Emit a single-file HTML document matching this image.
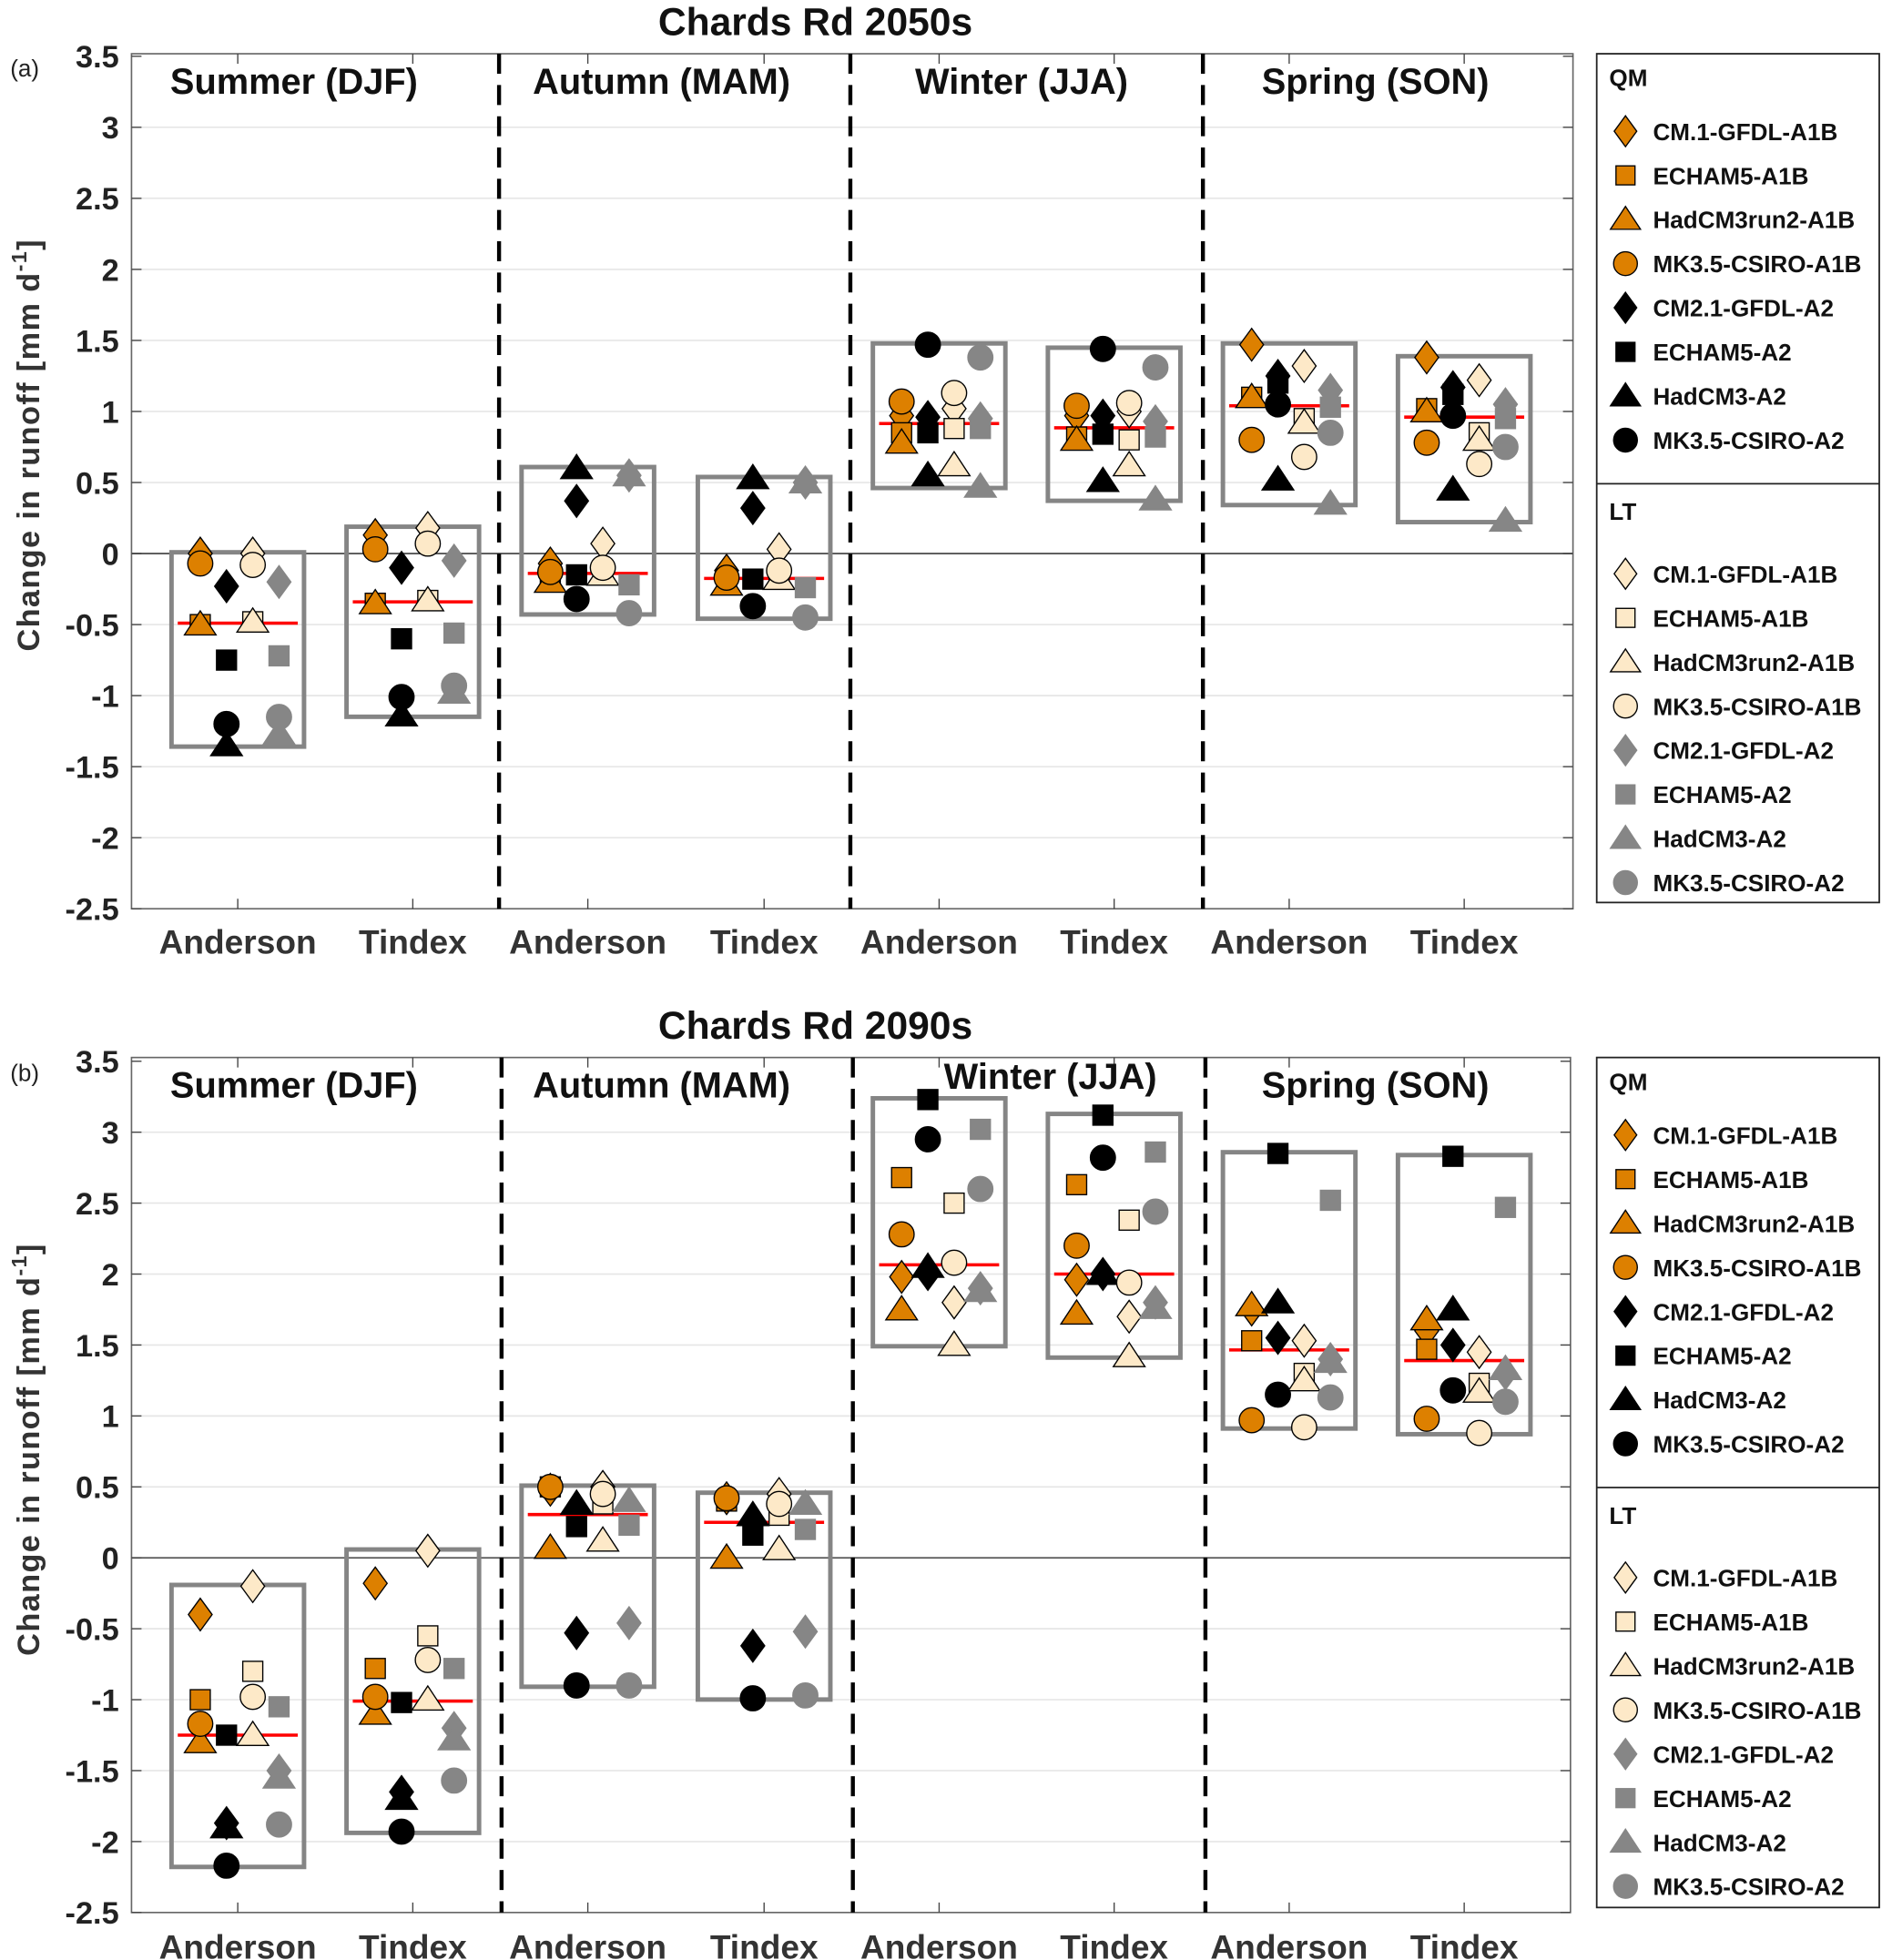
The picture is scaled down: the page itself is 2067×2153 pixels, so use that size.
<!DOCTYPE html>
<html><head><meta charset="utf-8">
<style>
html,body{margin:0;padding:0;background:#fff;}
svg{display:block;}
text{font-family:"Liberation Sans",sans-serif;}
</style></head>
<body>
<svg id="chart" xmlns="http://www.w3.org/2000/svg" width="2067" height="2153" viewBox="0 0 1505 1568"></svg>
<script>
// ---- data ----
const panelTitles = ["Chards Rd 2050s", "Chards Rd 2090s"];
const panelTags = ["(a)", "(b)"];
const seasons = ["Summer (DJF)", "Autumn (MAM)", "Winter (JJA)", "Spring (SON)"];
const methods = ["Anderson", "Tindex", "Anderson", "Tindex", "Anderson", "Tindex", "Anderson", "Tindex"];
const models = ["CM.1-GFDL-A1B", "ECHAM5-A1B", "HadCM3run2-A1B", "MK3.5-CSIRO-A1B", "CM2.1-GFDL-A2", "ECHAM5-A2", "HadCM3-A2", "MK3.5-CSIRO-A2"];
const yTicks = [3.5, 3, 2.5, 2, 1.5, 1, 0.5, 0, -0.5, -1, -1.5, -2, -2.5];
// each group: [QM-A1B(4), QM-A2(4), LT-A1B(4), LT-A2(4)] ; model order: diamond, square, triangle, circle
const values2050 = [
 [[0.0,-0.5,-0.5,-0.07],[-0.23,-0.75,-1.35,-1.2],[0.0,-0.48,-0.48,-0.08],[-0.2,-0.72,-1.27,-1.15]],
 [[0.13,-0.35,-0.35,0.03],[-0.1,-0.6,-1.14,-1.01],[0.18,-0.33,-0.33,0.07],[-0.05,-0.56,-0.98,-0.93]],
 [[-0.07,-0.15,-0.2,-0.13],[0.37,-0.15,0.6,-0.32],[0.07,-0.15,-0.15,-0.1],[0.55,-0.22,0.55,-0.42]],
 [[-0.12,-0.18,-0.22,-0.17],[0.32,-0.18,0.53,-0.37],[0.03,-0.18,-0.18,-0.12],[0.5,-0.24,0.5,-0.45]],
 [[0.97,0.85,0.78,1.07],[0.96,0.85,0.55,1.47],[1.02,0.88,0.62,1.13],[0.95,0.88,0.47,1.38]],
 [[0.97,0.82,0.8,1.04],[0.97,0.84,0.51,1.44],[1.0,0.8,0.62,1.06],[0.93,0.82,0.38,1.31]],
 [[1.47,1.1,1.1,0.8],[1.25,1.2,0.52,1.05],[1.32,0.95,0.92,0.68],[1.15,1.03,0.35,0.85]],
 [[1.38,1.02,1.0,0.78],[1.17,1.12,0.45,0.97],[1.22,0.85,0.8,0.63],[1.05,0.95,0.23,0.75]]
];
const values2090 = [
 [[-0.4,-1.0,-1.3,-1.17],[-1.87,-1.25,-1.9,-2.17],[-0.2,-0.8,-1.25,-0.98],[-1.5,-1.05,-1.55,-1.88]],
 [[-0.18,-0.78,-1.1,-0.98],[-1.65,-1.02,-1.7,-1.93],[0.05,-0.55,-1.0,-0.72],[-1.2,-0.78,-1.28,-1.57]],
 [[0.48,0.5,0.07,0.5],[-0.53,0.22,0.38,-0.9],[0.5,0.38,0.12,0.45],[-0.46,0.23,0.4,-0.9]],
 [[0.42,0.4,0.0,0.42],[-0.62,0.16,0.3,-0.99],[0.45,0.3,0.06,0.38],[-0.52,0.2,0.38,-0.97]],
 [[1.98,2.68,1.75,2.28],[2.0,3.23,2.05,2.95],[1.8,2.5,1.5,2.08],[1.9,3.02,1.88,2.6]],
 [[1.96,2.63,1.72,2.2],[2.0,3.12,2.0,2.82],[1.7,2.38,1.42,1.94],[1.8,2.86,1.76,2.44]],
 [[1.75,1.53,1.78,0.97],[1.55,2.85,1.8,1.15],[1.53,1.3,1.25,0.92],[1.4,2.52,1.38,1.13]],
 [[1.6,1.47,1.68,0.98],[1.5,2.83,1.75,1.18],[1.45,1.23,1.17,0.88],[1.3,2.47,1.33,1.1]]
];
const panelValues = [values2050, values2090];

// ---- drawing ----
const NS = "http://www.w3.org/2000/svg";
const svg = document.getElementById("chart");
const FILL = ["#dd8000", "#000000", "#fde9c8", "#868686"];
const STROKE = ["#000", "#000", "#000", "#868686"];
const SHAPES = ["diamond", "square", "triangle", "circle"];
function el(tag, attrs, parent) {
  const e = document.createElementNS(NS, tag);
  for (const k in attrs) e.setAttribute(k, attrs[k]);
  (parent || svg).appendChild(e);
  return e;
}
function marker(g, shape, cx, cy, fill, stroke, sc) {
  sc = sc || 1;
  let e;
  if (shape === "diamond") {
    const w = 9.5 * sc, h = 13 * sc;
    e = el("polygon", {points: `${cx},${cy-h} ${cx+w},${cy} ${cx},${cy+h} ${cx-w},${cy}`}, g);
  } else if (shape === "square") {
    const s = 8 * sc;
    e = el("rect", {x: cx - s, y: cy - s, width: 2 * s, height: 2 * s}, g);
  } else if (shape === "triangle") {
    const s = 11 * sc;
    e = el("polygon", {points: `${cx},${cy-s} ${cx+s*1.15},${cy+s*0.75} ${cx-s*1.15},${cy+s*0.75}`}, g);
  } else {
    e = el("circle", {cx: cx, cy: cy, r: 10 * sc}, g);
  }
  e.setAttribute("fill", fill);
  e.setAttribute("stroke", stroke);
  e.setAttribute("stroke-width", "1");
  return e;
}
function median(a) {
  const s = a.slice().sort((p, q) => p - q);
  const m = s.length / 2;
  return s.length % 2 ? s[Math.floor(m)] : (s[m - 1] + s[m]) / 2;
}

const panels = [
  {top: 45, bot: 727, ax0: 105, ax1: 1258, frameTop: 43, title: 15, dash: [399, 680, 962], xlab: 753, legTop: 43, legBot: 722, legSep: 387, legOff: 0},
  {top: 849, bot: 1530, ax0: 105, ax1: 1256, frameTop: 846, title: 818, dash: [401, 682, 964], xlab: 1557, legTop: 846, legBot: 1526, legSep: 1190, legOff: 803}
];
const groupX = [190, 330, 470, 611, 751, 891, 1031, 1171];
const offsets = [-30, -9, 12, 33];
const seasonX = [235, 529, 817, 1100];

panels.forEach((P, pi) => {
  const yMin = -2.5, yMax = 3.5;
  const yS = v => P.top + (yMax - v) / (yMax - yMin) * (P.bot - P.top);
  const g = el("g", {});
  
  

  // gridlines
  yTicks.forEach(t => {
    if (t === yMax || t === yMin) return;
    const l = el("line", {x1: P.ax0, x2: P.ax1, y1: yS(t), y2: yS(t), stroke: t === 0 ? "#555" : "#e6e6e6", "stroke-width": t === 0 ? 1.3 : 1.2}, g);
    
    
  });
  // axes frame
  const fr = el("rect", {x: P.ax0, y: P.frameTop, width: P.ax1 - P.ax0, height: P.bot - P.frameTop, fill: "none", stroke: "#666", "stroke-width": 1.2}, g);
  
  
  // y ticks & labels
  yTicks.forEach(t => {
    const y = yS(t);
    el("line", {x1: P.ax0, x2: P.ax0 + 8, y1: y, y2: y, stroke: "#444", "stroke-width": 1}, g);
    el("line", {x1: P.ax1, x2: P.ax1 - 8, y1: y, y2: y, stroke: "#444", "stroke-width": 1}, g);
    const tx = el("text", {x: 95, y: y + 9, "text-anchor": "end", "font-size": 25, "font-weight": "bold", fill: "#222"}, g);
    tx.textContent = String(t);
    
    
  });
  // x ticks & labels
  groupX.forEach((x, i) => {
    el("line", {x1: x, x2: x, y1: P.bot, y2: P.bot - 8, stroke: "#444", "stroke-width": 1}, g);
    el("line", {x1: x, x2: x, y1: P.frameTop, y2: P.frameTop + 8, stroke: "#444", "stroke-width": 1}, g);
    const tx = el("text", {x: x, y: P.xlab + 10, "text-anchor": "middle", "font-size": 27, "font-weight": "bold", fill: "#333"}, g);
    tx.textContent = methods[i];
    
    
  });
  // dashed separators
  P.dash.forEach(x => {
    const l = el("line", {x1: x, x2: x, y1: P.frameTop, y2: P.bot, stroke: "#000", "stroke-width": 3.2, "stroke-dasharray": "16 9"}, g);
    
    
  });
  // season labels
  seasons.forEach((s, i) => {
    const tx = el("text", {x: seasonX[i] + (pi && i === 2 ? 23 : 0), y: P.frameTop + (pi && i === 2 ? 25 : 32), "text-anchor": "middle", "font-size": 29, "font-weight": "bold", fill: "#111"}, g);
    tx.textContent = s;
    
    
  });
  // title and tag
  const tt = el("text", {x: 652, y: P.title + 13, "text-anchor": "middle", "font-size": 31, "font-weight": "bold", fill: "#111"}, g);
  tt.textContent = panelTitles[pi];
  
  
  const tg = el("text", {x: 8, y: P.top + 16, "font-size": 19, fill: "#222"}, g);
  tg.textContent = panelTags[pi];
  
  
  // y axis title
  const yc = (P.top + P.bot) / 2 - 30;
  const yt = el("text", {x: 0, y: 0, transform: `translate(31,${yc}) rotate(-90)`, "text-anchor": "middle", "font-size": 25, "font-weight": "bold", fill: "#333", "letter-spacing": "1"}, g);
  yt.innerHTML = 'Change in runoff [mm d<tspan dy="-10" font-size="17">-1</tspan><tspan dy="10">]</tspan>';
  
  

  // groups
  panelValues[pi].forEach((grp, gi) => {
    const cx = groupX[gi];
    const gg = el("g", {}, g);
    
    
    const all = grp.flat();
    const mx = Math.max(...all), mn = Math.min(...all), md = median(all);
    const box = el("rect", {x: cx - 53, y: yS(mx) - 1, width: 106, height: yS(mn) - yS(mx) + 2, fill: "none", stroke: "#858585", "stroke-width": 3.6}, gg);
    
    
    const ml = el("line", {x1: cx - 48, x2: cx + 48, y1: yS(md), y2: yS(md), stroke: "#ff0000", "stroke-width": 2.6}, gg);
    
    
    grp.forEach((set, si) => {
      set.forEach((v, mi) => {
        const m = marker(gg, SHAPES[mi], cx + offsets[si], yS(v), FILL[si], STROKE[si]);
        
        
      });
    });
  });

  // legend
  const lg = el("g", {});
  
  
  el("rect", {x: 1277, y: P.legTop, width: 226, height: P.legBot - P.legTop, fill: "#fff", stroke: "#222", "stroke-width": 1.3}, lg);
  el("line", {x1: 1277, x2: 1503, y1: P.legSep, y2: P.legSep, stroke: "#222", "stroke-width": 1.3}, lg);
  [["QM", 62, 105, 0], ["LT", 409, 459, 2]].forEach(([hd, hy, y0, c0]) => {
    const h = el("text", {x: 1287, y: hy + P.legOff + 7, "font-size": 19, "font-weight": "bold", fill: "#111"}, lg);
    h.textContent = hd;
    
    
    models.forEach((name, i) => {
      const y = y0 + P.legOff + i * 35.3;
      const ci = c0 + (i < 4 ? 0 : 1);
      const m = marker(lg, SHAPES[i % 4], 1300, y, FILL[ci], STROKE[ci], 0.95);
      
      
      const t = el("text", {x: 1322, y: y + 7, "font-size": 19, "font-weight": "bold", fill: "#111"}, lg);
      t.textContent = name;
      
      
    });
  });
});
</script>
</body></html>
